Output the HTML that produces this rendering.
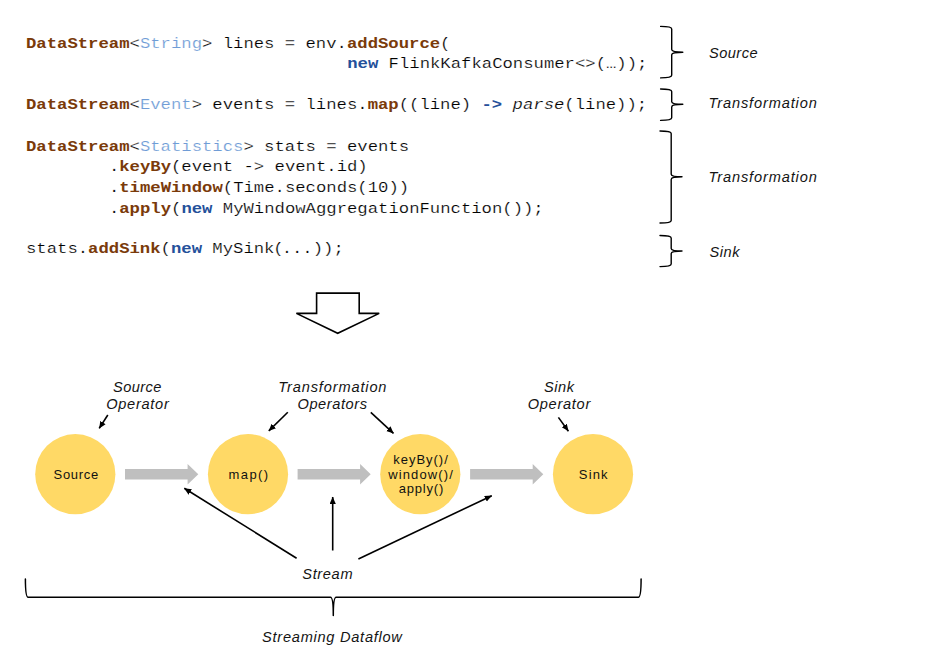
<!DOCTYPE html>
<html>
<head>
<meta charset="utf-8">
<style>
html,body{margin:0;padding:0;background:#fff;}
body{width:926px;height:662px;overflow:hidden;position:relative;}
svg{position:absolute;left:0;top:0;display:block;}
.code{font-family:"Liberation Mono",monospace;font-size:17.27px;fill:#000;white-space:pre;stroke:#fff;stroke-width:.22px;}
.kw{font-weight:bold;fill:#7a3a0a;stroke:none;}
.ty{fill:#6f9cd6;}
.nw{font-weight:bold;fill:#24509a;stroke:none;}
.it{font-style:italic;}
.lab{font-family:"Liberation Sans",sans-serif;font-style:italic;font-size:14.6px;fill:#141414;}
.node{font-family:"Liberation Sans",sans-serif;font-size:13px;fill:#111;text-anchor:middle;}
.br{fill:none;stroke:#000;stroke-width:1.4;stroke-linecap:round;stroke-linejoin:round;}
.ln{stroke:#000;stroke-width:1.6;fill:none;}
</style>
</head>
<body>
<svg width="926" height="662" viewBox="0 0 926 662">
<defs>
<marker id="ah" markerWidth="9" markerHeight="8" refX="7" refY="3.2" orient="auto" markerUnits="userSpaceOnUse">
<path d="M0,0.1 L7.2,3.2 L0,6.3 Z" fill="#000"/>
</marker>
</defs>

<!-- code -->
<g class="code" xml:space="preserve">
<text x="26" y="0" transform="translate(0,48.0) scale(1,0.89)"><tspan class="kw">DataStream</tspan>&lt;<tspan class="ty">String</tspan>&gt; lines = env.<tspan class="kw">addSource</tspan>(</text>
<text x="347.2" y="0" transform="translate(0,68.0) scale(1,0.89)"><tspan class="nw">new</tspan> FlinkKafkaConsumer&lt;&gt;(…));</text>
<text x="26" y="0" transform="translate(0,109.0) scale(1,0.89)"><tspan class="kw">DataStream</tspan>&lt;<tspan class="ty">Event</tspan>&gt; events = lines.<tspan class="kw">map</tspan>((line) <tspan class="nw">-&gt;</tspan> <tspan class="it">parse</tspan>(line));</text>
<text x="26" y="0" transform="translate(0,151.0) scale(1,0.89)"><tspan class="kw">DataStream</tspan>&lt;<tspan class="ty">Statistics</tspan>&gt; stats = events</text>
<text x="108.9" y="0" transform="translate(0,171.1) scale(1,0.89)">.<tspan class="kw">keyBy</tspan>(event -&gt; event.id)</text>
<text x="108.9" y="0" transform="translate(0,192.0) scale(1,0.89)">.<tspan class="kw">timeWindow</tspan>(Time.seconds(10))</text>
<text x="108.9" y="0" transform="translate(0,213.0) scale(1,0.89)">.<tspan class="kw">apply</tspan>(<tspan class="nw">new</tspan> MyWindowAggregationFunction());</text>
<text x="26" y="0" transform="translate(0,253.0) scale(1,0.89)">stats.<tspan class="kw">addSink</tspan>(<tspan class="nw">new</tspan> MySink<tspan dx="-1.3">(</tspan><tspan dx="-1.9">...));</tspan></text>
</g>

<!-- braces -->
<path class="br" d="M660.6,26.4 Q671.7,26.4 671.7,29 L671.7,49.6 Q671.7,52.2 682.8,52.2 Q671.7,52.2 671.7,54.8 L671.7,75.3 Q671.7,77.9 660.6,77.9"/>
<path class="br" d="M660.6,89 Q671.7,89 671.7,91.6 L671.7,101.7 Q671.7,104.3 682.8,104.3 Q671.7,104.3 671.7,106.9 L671.7,117.8 Q671.7,120.4 660.6,120.4"/>
<path class="br" d="M660,131 Q671.2,131 671.2,133.6 L671.2,174.2 Q671.2,176.8 682,176.8 Q671.2,176.8 671.2,179.4 L671.2,220.4 Q671.2,223 660,223"/>
<path class="br" d="M660,235.5 Q671.2,235.5 671.2,238.1 L671.2,248.4 Q671.2,251 682,251 Q671.2,251 671.2,253.6 L671.2,264 Q671.2,266.6 660,266.6"/>

<!-- right labels -->
<g class="lab">
<text x="709" y="58" textLength="48.5" lengthAdjust="spacing">Source</text>
<text x="708.6" y="108" textLength="108.2" lengthAdjust="spacing">Transformation</text>
<text x="708.6" y="182" textLength="108.2" lengthAdjust="spacing">Transformation</text>
<text x="709.5" y="257" textLength="30" lengthAdjust="spacing">Sink</text>
</g>

<!-- block arrow -->
<path d="M316.6,293.1 L359.2,293.1 L359.2,313.4 L379.2,313.4 L337.7,333.3 L296.4,313.4 L316.6,313.4 Z" fill="#fff" stroke="#000" stroke-width="1.6" stroke-linejoin="miter"/>

<!-- circles -->
<g fill="#ffd966">
<circle cx="75.3" cy="474.2" r="40.1"/>
<circle cx="248" cy="474.2" r="40.1"/>
<circle cx="420.3" cy="474.2" r="40.1"/>
<circle cx="593" cy="474.2" r="40.1"/>
</g>

<!-- grey arrows -->
<g fill="#bfbfbf">
<path d="M125,468.9 L187.6,468.9 L187.6,464 L198.3,474.2 L187.6,484.4 L187.6,479.5 L125,479.5 Z"/>
<path d="M297.6,468.9 L360.1,468.9 L360.1,464 L370.7,474.2 L360.1,484.4 L360.1,479.5 L297.6,479.5 Z"/>
<path d="M470.1,468.9 L532.7,468.9 L532.7,464 L543.3,474.2 L532.7,484.4 L532.7,479.5 L470.1,479.5 Z"/>
</g>

<!-- node text -->
<g class="node">
<text x="75.9" y="479" textLength="44.6" lengthAdjust="spacing">Source</text>
<text x="248.3" y="479" textLength="39.6" lengthAdjust="spacing">map()</text>
<text x="420.5" y="463.8" textLength="54.5" lengthAdjust="spacing">keyBy()/</text>
<text x="420.5" y="478.5" textLength="64.5" lengthAdjust="spacing">window()/</text>
<text x="421" y="493.2" textLength="44.5" lengthAdjust="spacing">apply()</text>
<text x="593.2" y="479.2" textLength="28.8" lengthAdjust="spacing">Sink</text>
</g>

<!-- operator labels -->
<g class="lab" text-anchor="middle">
<text x="137.2" y="392" textLength="48.5" lengthAdjust="spacing">Source</text>
<text x="137.5" y="408.8" textLength="62.5" lengthAdjust="spacing">Operator</text>
<text x="332.4" y="392" textLength="108.2" lengthAdjust="spacing">Transformation</text>
<text x="332.2" y="408.8" textLength="69.5" lengthAdjust="spacing">Operators</text>
<text x="559" y="392" textLength="30" lengthAdjust="spacing">Sink</text>
<text x="559" y="408.8" textLength="62.5" lengthAdjust="spacing">Operator</text>
<text x="327.4" y="579" textLength="50.3" lengthAdjust="spacing">Stream</text>
<text x="332" y="641.5" textLength="139.8" lengthAdjust="spacing">Streaming Dataflow</text>
</g>

<!-- small arrows -->
<g class="ln" marker-end="url(#ah)">
<line x1="107.8" y1="415" x2="99.2" y2="428.4"/>
<line x1="287.8" y1="412.3" x2="268.8" y2="430.9"/>
<line x1="370.8" y1="412.3" x2="393.5" y2="433.4"/>
<line x1="558.4" y1="417.4" x2="568.4" y2="431.2"/>
<line x1="296.6" y1="558.2" x2="184.3" y2="488.3"/>
<line x1="332.7" y1="550.5" x2="332.7" y2="497"/>
<line x1="358.4" y1="559" x2="491.8" y2="495.7"/>
</g>

<!-- bottom bracket -->
<path class="br" style="stroke-width:1.5" d="M25.4,579 Q25.4,597.3 28.1,597.3 L330.5,597.3 Q333.3,597.3 333.3,615.4 Q333.3,597.3 336.1,597.3 L638.4,597.3 Q641.1,597.3 641.1,579"/>
</svg>
</body>
</html>
